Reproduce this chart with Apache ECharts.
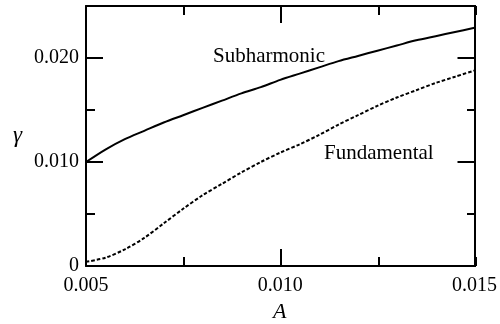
<!DOCTYPE html>
<html>
<head>
<meta charset="utf-8">
<title>growth rate vs amplitude</title>
<script src="https://cdn.jsdelivr.net/npm/echarts@6/dist/echarts.min.js"></script>
<style>
  html, body { margin: 0; padding: 0; background: #fff; }
  #chart { width: 500px; height: 324px; }
</style>
</head>
<body>
<div id="chart"></div>
<script>
// amplitude A (x)
var ampA = [0.005, 0.0055, 0.006, 0.0065, 0.007, 0.0075, 0.008, 0.0085, 0.009, 0.0095,
  0.010, 0.0105, 0.011, 0.0115, 0.012, 0.0125, 0.013, 0.0135, 0.014, 0.0145, 0.015];
// growth rate gamma
var subharmonic = [0.0100, 0.0112, 0.0122, 0.0130, 0.0138, 0.0145, 0.0152, 0.0159, 0.0166, 0.0172,
  0.0179, 0.0185, 0.0191, 0.0197, 0.0202, 0.0207, 0.0212, 0.0217, 0.0221, 0.0225, 0.0229];
var fundamental = [0.0004, 0.0008, 0.0016, 0.0027, 0.0041, 0.0055, 0.0068, 0.0079, 0.0090, 0.0100,
  0.0109, 0.0117, 0.0126, 0.0136, 0.0145, 0.0154, 0.0162, 0.0169, 0.0176, 0.0182, 0.0188];

var xTicks = [0.005, 0.010, 0.015];
var xTickLabels = ['0.005', '0.010', '0.015'];
var yTicks = [0, 0.010, 0.020];
var yTickLabels = ['0', '0.010', '0.020'];

var serif = "'Liberation Serif', 'DejaVu Serif', serif";

function pairs(xs, ys) {
  return xs.map(function (x, i) { return [x, ys[i]]; });
}
function lookup(ticks, labels) {
  return function (v) {
    for (var i = 0; i < ticks.length; i++) {
      if (Math.abs(v - ticks[i]) < 1e-9) return labels[i];
    }
    return '';
  };
}

var black = '#000';
var lineW = 2;

function xAx(gridIndex, position, major) {
  return {
    type: 'value', gridIndex: gridIndex, position: position,
    min: 0.005, max: 0.015, interval: major ? 0.005 : 0.0025,
    axisLine: { show: major, onZero: false, lineStyle: { color: black, width: lineW } },
    axisTick: { show: true, inside: true, length: major ? 17 : 9, lineStyle: { color: black, width: lineW } },
    axisLabel: {
      show: major && position === 'bottom', margin: 10, color: black,
      fontFamily: serif, fontSize: 20, formatter: lookup(xTicks, xTickLabels)
    },
    splitLine: { show: false }
  };
}
function yAx(gridIndex, position, major) {
  return {
    type: 'value', gridIndex: gridIndex, position: position,
    min: 0, max: 0.025, interval: major ? 0.01 : 0.005,
    axisLine: { show: major, onZero: false, lineStyle: { color: black, width: lineW } },
    axisTick: { show: true, inside: true, length: major ? 17 : 9, lineStyle: { color: black, width: lineW } },
    axisLabel: {
      show: major && position === 'left', margin: 7, color: black,
      fontFamily: serif, fontSize: 20, formatter: lookup(yTicks, yTickLabels)
    },
    splitLine: { show: false }
  };
}

var chart = echarts.init(document.getElementById('chart'), null, { renderer: 'canvas' });

var option = {
  backgroundColor: '#fff',
  animation: false,
  // grid 0 holds the major ticks and the curves, grid 1 only the minor ticks
  grid: [
    { left: 86, right: 24, top: 6, bottom: 58 },
    { left: 86, right: 24, top: 6, bottom: 58 }
  ],
  xAxis: [
    xAx(0, 'bottom', true), xAx(0, 'top', true),
    xAx(1, 'bottom', false), xAx(1, 'top', false)
  ],
  yAxis: [
    yAx(0, 'left', true), yAx(0, 'right', true),
    yAx(1, 'left', false), yAx(1, 'right', false)
  ],
  graphic: [
    { type: 'text', left: 213, top: 46, style: { text: 'Subharmonic', font: '21px ' + serif, fill: black } },
    { type: 'text', left: 324, top: 143, style: { text: 'Fundamental', font: '21px ' + serif, fill: black } },
    { type: 'text', left: 13, top: 124, style: { text: 'γ', font: 'italic 23px ' + serif, fill: black } },
    { type: 'text', left: 273, top: 301, style: { text: 'A', font: 'italic 22px ' + serif, fill: black } }
  ],
  series: [
    {
      name: 'Subharmonic', type: 'line', xAxisIndex: 0, yAxisIndex: 0,
      data: pairs(ampA, subharmonic), smooth: 0.3, showSymbol: false,
      lineStyle: { color: black, width: 2 }
    },
    {
      name: 'Fundamental', type: 'line', xAxisIndex: 0, yAxisIndex: 0,
      data: pairs(ampA, fundamental), smooth: 0.3, showSymbol: false,
      lineStyle: { color: black, width: 2, type: [3.5, 2] }
    }
  ]
};

chart.setOption(option);
</script>
</body>
</html>
